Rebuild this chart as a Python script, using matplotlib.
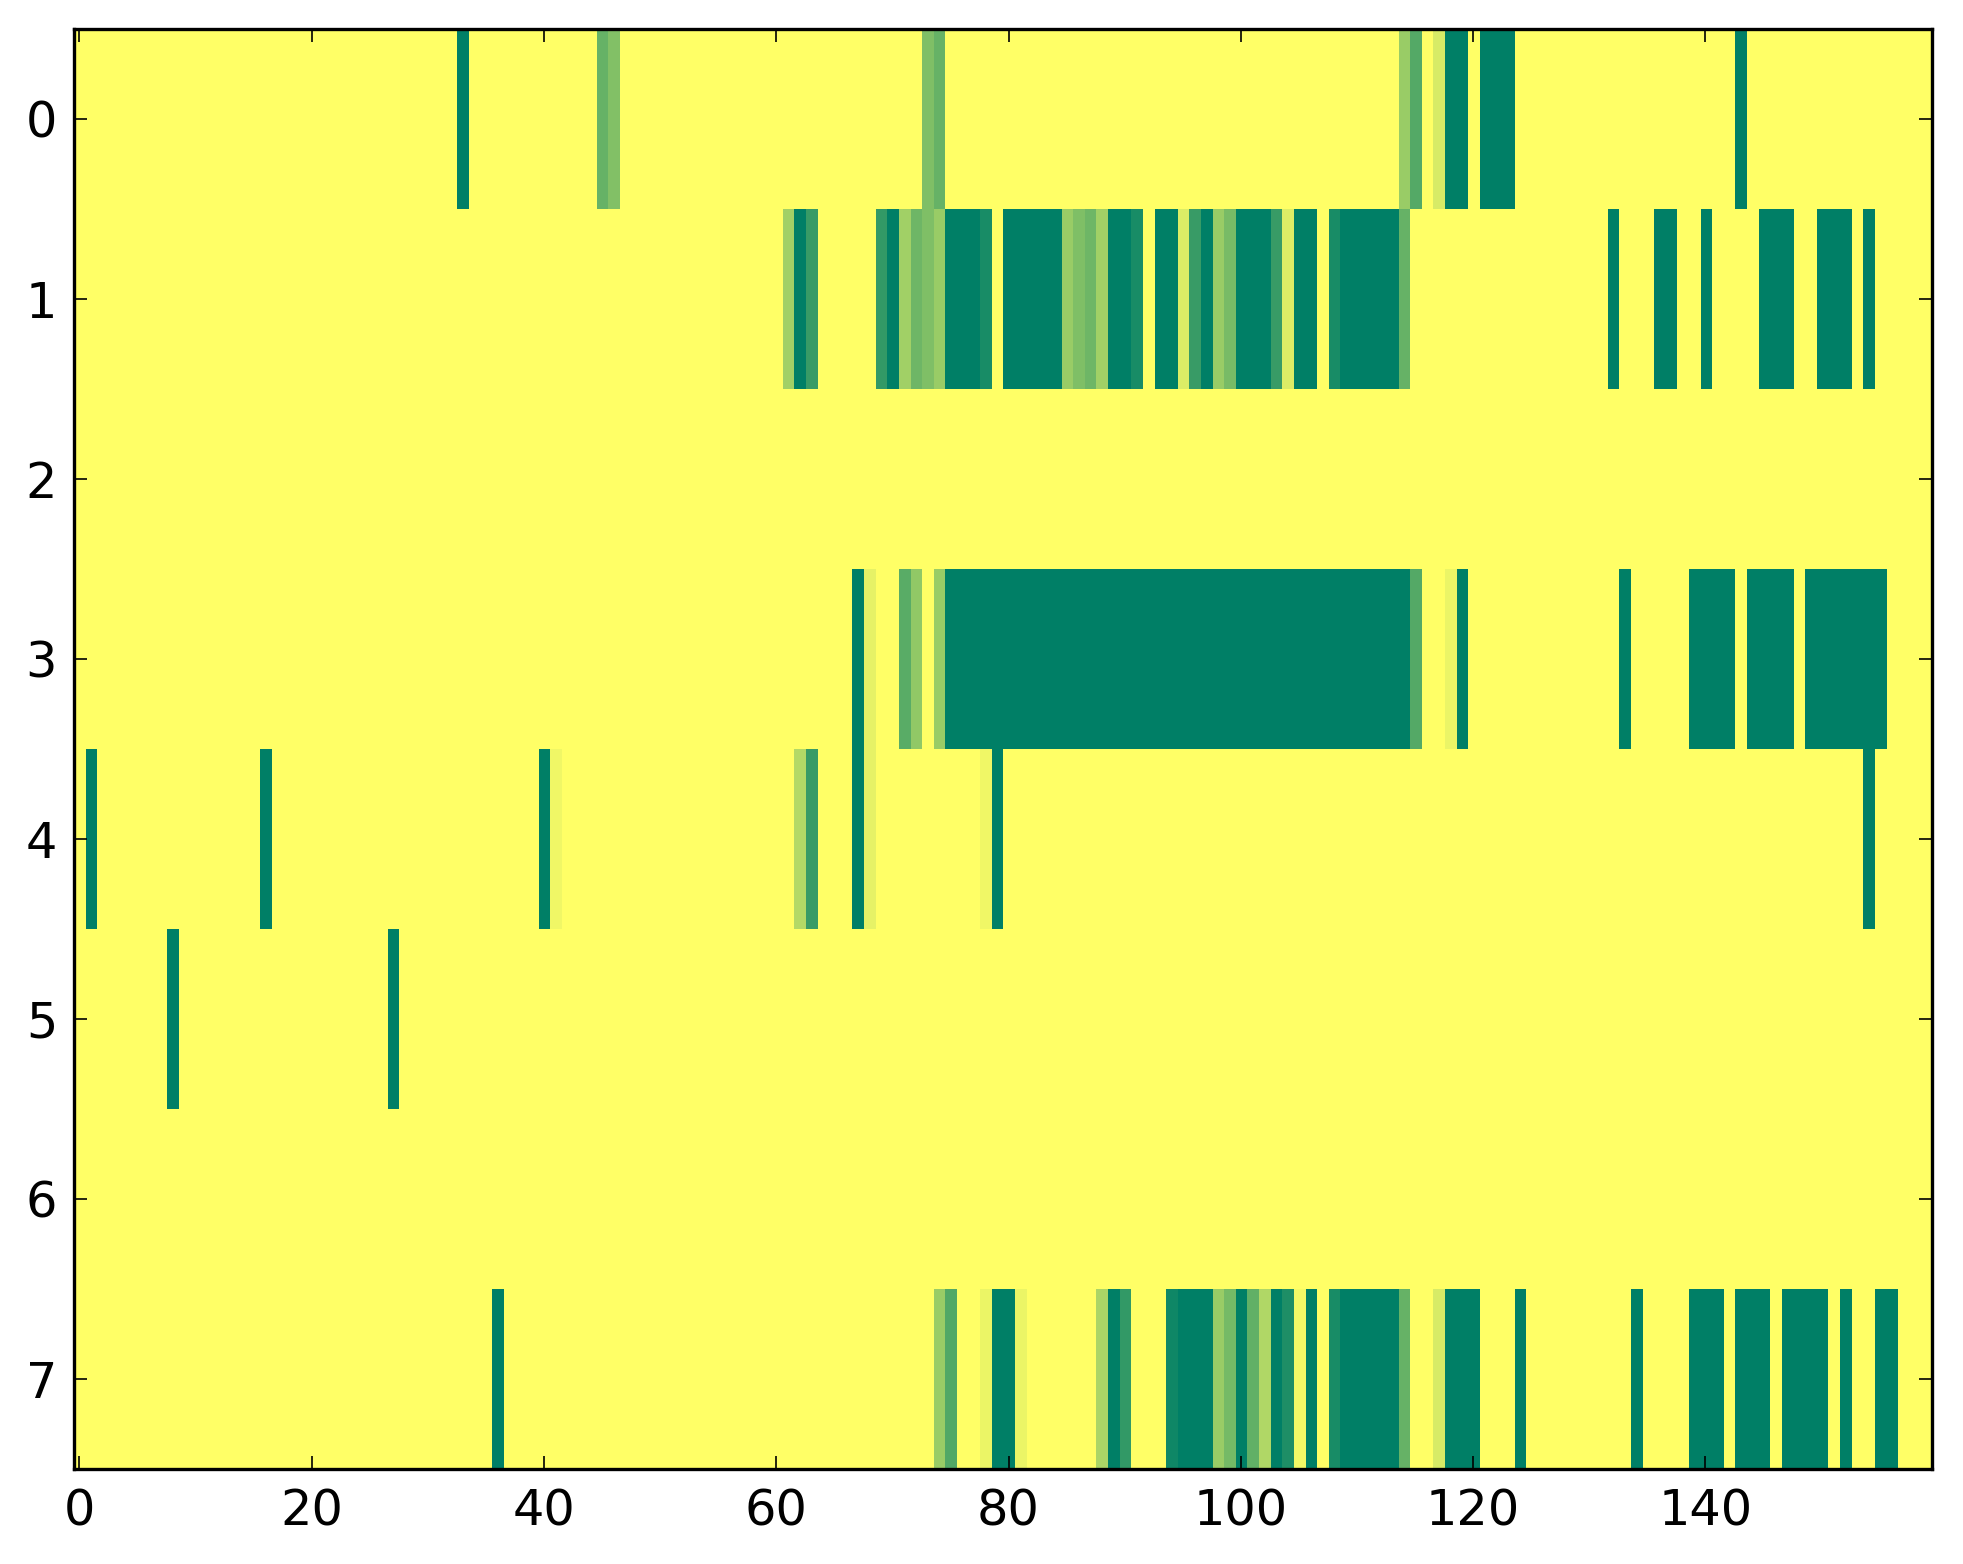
import numpy as np
import matplotlib
matplotlib.use("Agg")
from matplotlib import pyplot as plt

# 8 rows x 160 columns; cells not listed are 0 (yellow)
n_rows = 8
n_cols = 160

# runs per row: (first column, last column, value)
row0 = [(33, 33, 1.0), (45, 45, 0.6), (46, 46, 0.49), (73, 73, 0.5), (74, 74, 0.6),
        (114, 114, 0.4), (115, 115, 0.67), (117, 117, 0.16), (118, 119, 1.0),
        (121, 123, 1.0), (143, 143, 1.0)]
row1 = [(61, 61, 0.37), (62, 62, 1.0), (63, 63, 0.78), (69, 69, 0.8), (70, 70, 1.0),
        (71, 71, 0.37), (72, 72, 0.57), (73, 73, 0.5), (74, 74, 0.4), (75, 77, 1.0),
        (78, 78, 0.9), (80, 84, 1.0), (85, 85, 0.4), (86, 86, 0.5), (87, 87, 0.57),
        (88, 88, 0.37), (89, 90, 1.0), (91, 91, 0.9), (93, 94, 1.0), (95, 95, 0.14),
        (96, 96, 0.78), (97, 97, 1.0), (98, 98, 0.4), (99, 99, 0.53), (100, 102, 1.0),
        (103, 103, 0.78), (104, 104, 0.14), (105, 106, 1.0), (108, 108, 0.9),
        (109, 113, 1.0), (114, 114, 0.6), (132, 132, 1.0), (136, 137, 1.0),
        (140, 140, 1.0), (145, 147, 1.0), (150, 152, 1.0), (154, 154, 1.0)]
row2 = []
row3 = [(67, 67, 1.0), (68, 68, 0.1), (71, 71, 0.65), (72, 72, 0.43), (74, 74, 0.4),
        (75, 114, 1.0), (115, 115, 0.67), (118, 118, 0.08), (119, 119, 1.0),
        (133, 133, 1.0), (139, 142, 1.0), (144, 147, 1.0), (149, 155, 1.0)]
row4 = [(1, 1, 1.0), (16, 16, 1.0), (40, 40, 1.0), (41, 41, 0.06), (62, 62, 0.3),
        (63, 63, 0.78), (67, 67, 1.0), (68, 68, 0.1), (78, 78, 0.06), (79, 79, 1.0),
        (154, 154, 1.0)]
row5 = [(8, 8, 1.0), (27, 27, 1.0)]
row6 = []
row7 = [(36, 36, 1.0), (74, 74, 0.4), (75, 75, 0.68), (78, 78, 0.08), (79, 80, 1.0),
        (81, 81, 0.08), (88, 88, 0.33), (89, 89, 1.0), (90, 90, 0.8), (94, 94, 0.94),
        (95, 97, 1.0), (98, 98, 0.4), (99, 99, 0.54), (100, 100, 1.0), (101, 101, 0.62),
        (102, 102, 0.31), (103, 103, 1.0), (104, 104, 0.88), (105, 105, 0.05),
        (106, 106, 1.0), (108, 108, 0.9), (109, 113, 1.0), (114, 114, 0.6),
        (117, 117, 0.16), (118, 120, 1.0), (124, 124, 1.0), (134, 134, 1.0),
        (139, 141, 1.0), (143, 145, 1.0), (147, 150, 1.0), (152, 152, 1.0),
        (155, 156, 1.0)]

rows = [row0, row1, row2, row3, row4, row5, row6, row7]
x_ticks = [0, 20, 40, 60, 80, 100, 120, 140]
y_ticks = [0, 1, 2, 3, 4, 5, 6, 7]

matriz = np.zeros((n_rows, n_cols))
for i, runs in enumerate(rows):
    for a, b, v in runs:
        matriz[i, a:b + 1] = v

dpi = 240
fig = plt.figure(figsize=(1963 / dpi, 1564 / dpi), dpi=dpi)
ax = fig.add_axes([73.5 / 1963, 1 - 1468.8 / 1564, (1932 - 73.5) / 1963, (1468.8 - 28.8) / 1564])

ax.imshow(matriz, cmap="summer_r", vmin=0, vmax=1, aspect="auto", interpolation="nearest")

ax.set_xticks(x_ticks)
ax.set_yticks(y_ticks)
ax.set_xlim(-0.5, n_cols - 0.5)
ax.set_ylim(n_rows - 0.5, -0.5)
for s in ax.spines.values():
    s.set_linewidth(1.0)
ax.tick_params(direction="in", top=True, right=True, length=4, width=0.5, labelsize=14.8)
ax.tick_params(axis="x", pad=5.5)
ax.tick_params(axis="y", pad=4.9)

plt.savefig("out.png", dpi=dpi)
